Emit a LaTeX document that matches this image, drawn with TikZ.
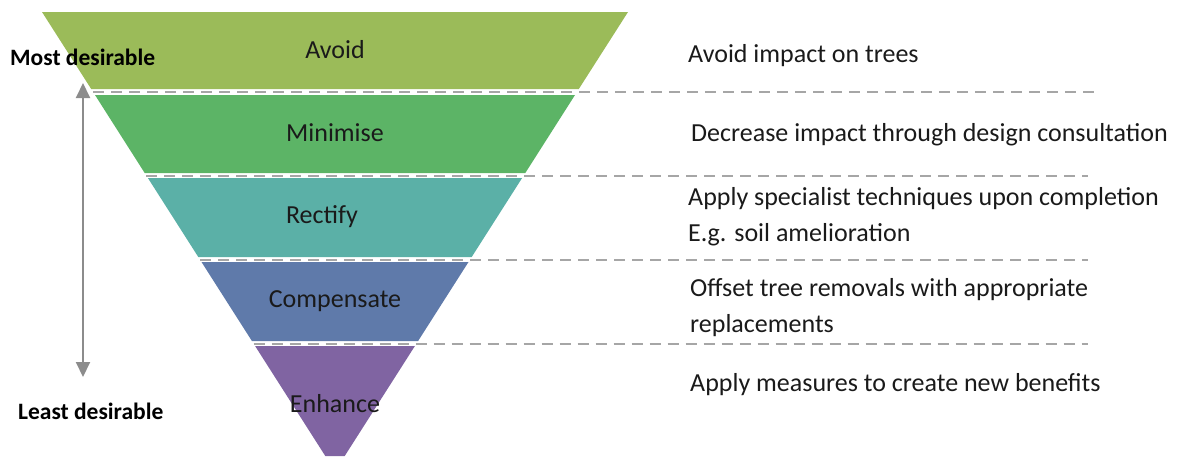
\documentclass[tikz,border=0pt]{standalone}
\usepackage{fontspec}
\setmainfont{Carlito}
\usetikzlibrary{arrows.meta}
\definecolor{cAvoid}{HTML}{9BBB59}
\definecolor{cMin}{HTML}{5CB466}
\definecolor{cRect}{HTML}{5BB0A7}
\definecolor{cComp}{HTML}{5F7AAA}
\definecolor{cEnh}{HTML}{8064A2}
\definecolor{dashgray}{HTML}{A6A6A6}
\definecolor{arrgray}{HTML}{8C8C8C}
\definecolor{txt}{HTML}{1A1A1A}
\begin{document}
\begin{tikzpicture}[x=1pt,y=-1pt,
  bandlabel/.style={font=\fontsize{26}{31}\selectfont, text=txt, inner sep=0pt},
  desc/.style={font=\fontsize{26}{36}\selectfont, text=txt, anchor=west, align=left, inner sep=0pt},
  side/.style={font=\fontsize{23.5}{28}\selectfont\bfseries, text=black, anchor=west, inner sep=0pt},
  sepline/.style={draw=dashgray, line width=2pt, dash pattern=on 11pt off 7pt},
  rankarrow/.style={draw=arrgray, line width=2pt, {Triangle[length=15pt,width=14pt]}-{Triangle[length=15pt,width=14pt]}}
]
\useasboundingbox (0,0) rectangle (1182,456);
% bands
\fill[cAvoid] (42,12) -- (628,12) -- (578.8,89) -- (91.2,89) -- cycle;
\fill[cMin] (95,95) -- (575,95) -- (525.3,173) -- (144.7,173) -- cycle;
\fill[cRect] (147.9,178) -- (522.1,178) -- (471.7,257) -- (198.3,257) -- cycle;
\fill[cComp] (201.5,262) -- (468.5,262) -- (418.1,341) -- (251.9,341) -- cycle;
\fill[cEnh] (255.1,346) -- (414.9,346) -- (344.7,456) -- (325.3,456) -- cycle;
% separators
\draw[sepline] (93,92) -- (1100,92);
\draw[sepline] (146,175.5) -- (1088,175.5);
\draw[sepline] (200,259.5) -- (1088,259.5);
\draw[sepline] (253.5,343.5) -- (1088,343.5);
% band labels
\node[bandlabel] (avoid) at (335,50) {Avoid};
\node[bandlabel] (minimise) at (335,133) {Minimise};
\node[bandlabel] (rectify) at (322,217) {Rectify};
\node[bandlabel] (compensate) at (335,301) {Compensate};
\node[bandlabel] (enhance) at (335,404) {Enhance};
% descriptions
\node[desc] (dAvoid) at (688,56) {Avoid impact on trees};
\node[desc] (dMin) at (691,135) {Decrease impact through design consultation};
\node[desc] (dRect) at (688,217) {Apply specialist techniques upon completion\\E.g. soil amelioration};
\node[desc] (dComp) at (690,308) {Offset tree removals with appropriate\\replacements};
\node[desc] (dEnh) at (690,385) {Apply measures to create new benefits};
% side labels and arrow
\node[side] (most) at (10,57) {Most desirable};
\node[side] (least) at (18,411) {Least desirable};
\coordinate (top) at (83,83);
\coordinate (bot) at (83,377);
\draw[rankarrow] (top) -- (bot);
\end{tikzpicture}
\end{document}
